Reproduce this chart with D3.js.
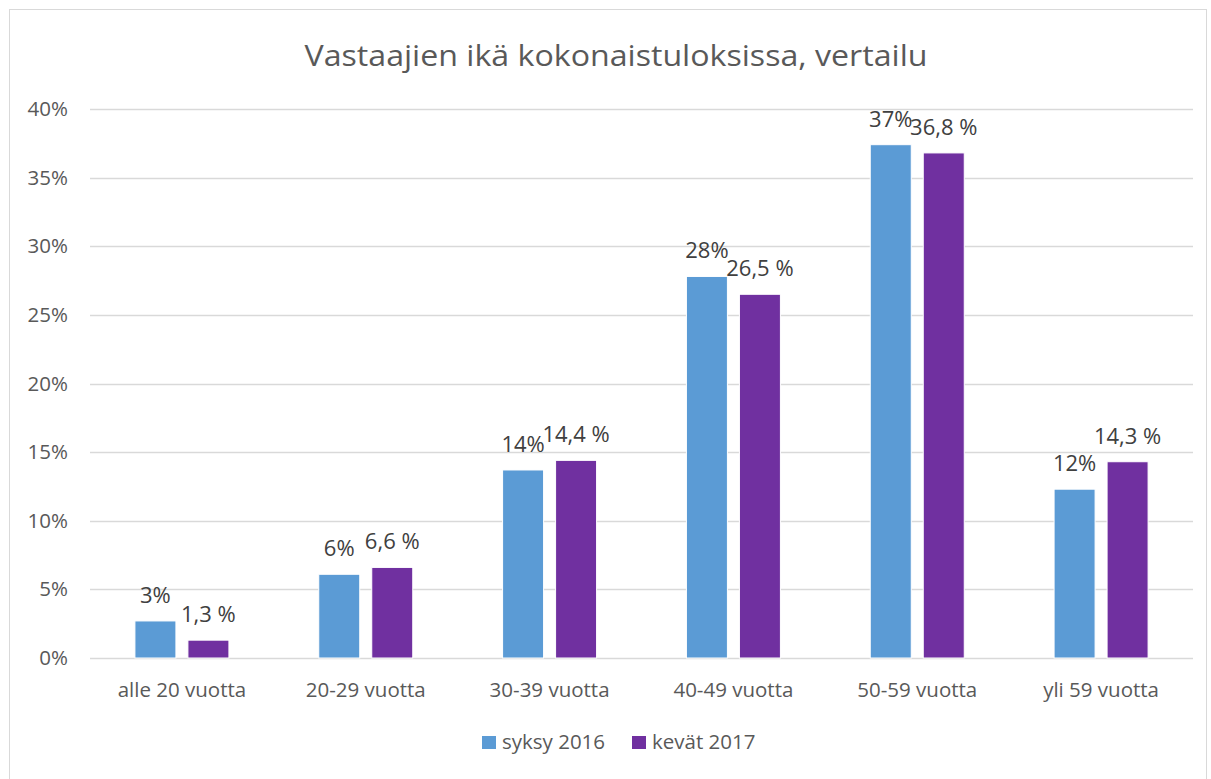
<!DOCTYPE html>
<html>
<head>
<meta charset="utf-8">
<script src="https://cdn.jsdelivr.net/npm/d3@7"></script>
<style>
  body { margin: 0; background: #fff; }
  svg { display: block; font-family: "Open Sans", sans-serif; }
</style>
</head>
<body>
<div id="chart"></div>
<script>
// chart data
var categories = ["alle 20 vuotta", "20-29 vuotta", "30-39 vuotta", "40-49 vuotta", "50-59 vuotta", "yli 59 vuotta"];
var seriesNames = ["syksy 2016", "kevät 2017"];
var syksy2016 = [2.7, 6.1, 13.7, 27.8, 37.4, 12.3];
var kevat2017 = [1.3, 6.6, 14.4, 26.5, 36.8, 14.3];
var syksyLabels = ["3%", "6%", "14%", "28%", "37%", "12%"];
var kevatLabels = ["1,3 %", "6,6 %", "14,4 %", "26,5 %", "36,8 %", "14,3 %"];
var yTicks = [0, 5, 10, 15, 20, 25, 30, 35, 40];

var colors = ["#5b9bd5", "#7030a0"];

var width = 1211, height = 779;
var margin = {left: 90, right: 18, top: 109, bottom: 121};

var svg = d3.select("#chart").append("svg")
    .attr("width", width)
    .attr("height", height);

// outer chart border
svg.append("rect")
    .attr("x", 9.5).attr("y", 9.5)
    .attr("width", 1197).attr("height", 780)
    .attr("fill", "#fff")
    .attr("stroke", "#d9d9d9");

svg.append("text")
    .attr("x", 616).attr("y", 66)
    .attr("text-anchor", "middle")
    .attr("font-size", 29)
    .attr("textLength", 623)
    .attr("lengthAdjust", "spacingAndGlyphs")
    .attr("fill", "#595959")
    .text("Vastaajien ikä kokonaistuloksissa, vertailu");

var x0 = d3.scaleBand()
    .domain(categories)
    .range([margin.left, width - margin.right]);

var y = d3.scaleLinear()
    .domain([0, 40])
    .range([height - margin.bottom, margin.top]);

// gridlines
svg.append("g")
  .selectAll("line")
    .data(yTicks)
  .enter().append("line")
    .attr("x1", margin.left)
    .attr("x2", width - margin.right)
    .attr("y1", function(d) { return Math.round(y(d)) + 0.5; })
    .attr("y2", function(d) { return Math.round(y(d)) + 0.5; })
    .attr("stroke", "#d9d9d9")
    .attr("stroke-width", 1.5);

// y labels
svg.append("g")
  .selectAll("text")
    .data(yTicks)
  .enter().append("text")
    .attr("x", 68)
    .attr("y", function(d) { return y(d) + 7; })
    .attr("text-anchor", "end")
    .attr("font-size", 20.5)
    .attr("fill", "#595959")
    .text(function(d) { return d + "%"; });

// x labels
svg.append("g")
  .selectAll("text")
    .data(categories)
  .enter().append("text")
    .attr("x", function(d) { return x0(d) + x0.bandwidth() / 2; })
    .attr("y", 697)
    .attr("text-anchor", "middle")
    .attr("font-size", 20.5)
    .attr("fill", "#595959")
    .text(function(d) { return d; });

var barW = 41, gap = 12;
var x1 = d3.scaleOrdinal()
    .domain([0, 1])
    .range([-gap / 2 - barW, gap / 2]);

var series = [
  {values: syksy2016, labels: syksyLabels},
  {values: kevat2017, labels: kevatLabels}
];

series.forEach(function(s, si) {
  var g = svg.append("g");
  g.selectAll("rect")
      .data(s.values)
    .enter().append("rect")
      .attr("x", function(d, i) { return x0(categories[i]) + x0.bandwidth() / 2 + x1(si); })
      .attr("y", function(d) { return y(d); })
      .attr("width", barW)
      .attr("height", function(d) { return y(0) - y(d); })
      .attr("fill", colors[si])
      .attr("stroke", "#fff")
      .attr("stroke-width", 1);

  g.selectAll("text")
      .data(s.values)
    .enter().append("text")
      .attr("x", function(d, i) { return x0(categories[i]) + x0.bandwidth() / 2 + x1(si) + barW / 2; })
      .attr("y", function(d) { return y(d) - 18; })
      .attr("text-anchor", "middle")
      .attr("font-size", 22)
      .attr("fill", "#404040")
      .text(function(d, i) { return s.labels[i]; });
});

// legend
var legendX = [482, 632];
var lg = svg.append("g")
  .selectAll("g")
    .data(seriesNames)
  .enter().append("g")
    .attr("transform", function(d, i) { return "translate(" + legendX[i] + ",736)"; });

lg.append("rect")
    .attr("width", 14).attr("height", 13)
    .attr("fill", function(d, i) { return colors[i]; });

lg.append("text")
    .attr("x", 20).attr("y", 13)
    .attr("font-size", 20.5)
    .attr("fill", "#595959")
    .text(function(d) { return d; });
</script>
</body>
</html>
